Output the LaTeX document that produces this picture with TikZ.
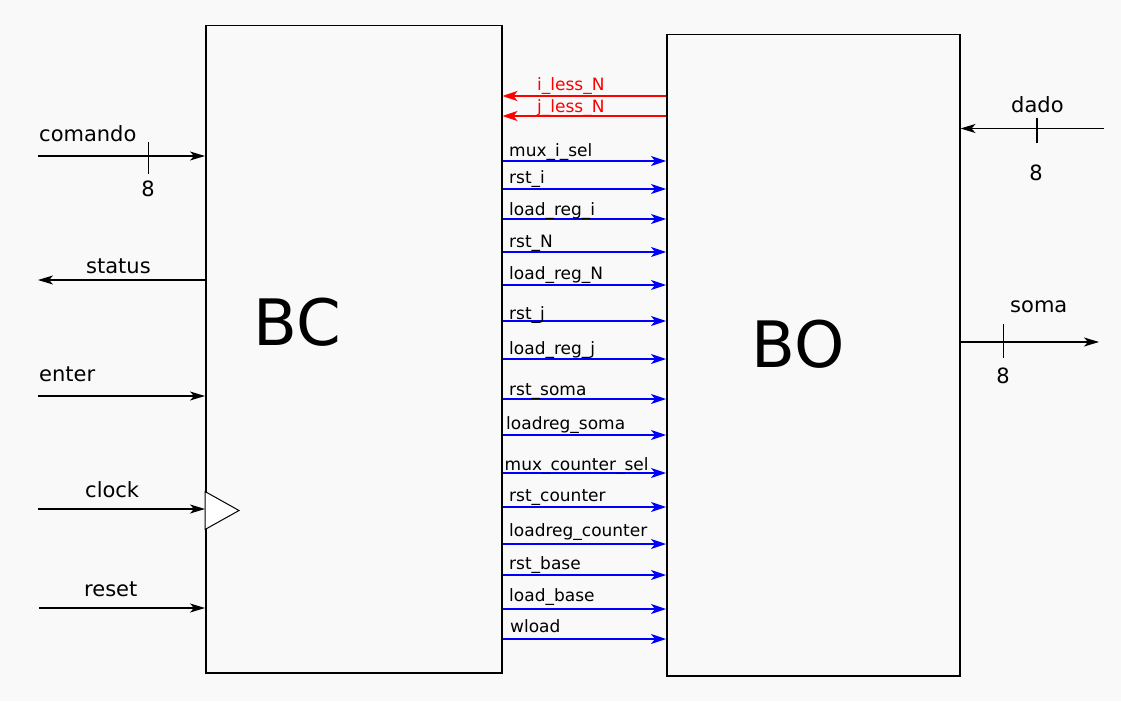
\documentclass[tikz,border=0pt]{standalone}
\usepackage{fontspec}
\setmainfont{DejaVu Sans}
\usetikzlibrary{arrows.meta}
\definecolor{bgc}{HTML}{F9F9F9}
\begin{document}
\begin{tikzpicture}[x=1pt,y=-1pt,
  block/.style={draw, line width=1.5pt, inner sep=0pt, anchor=north west},
  sig/.style={draw=blue, line width=1.1pt, -{Stealth[length=15pt,width=10pt,inset=4pt]}},
  redsig/.style={draw=red, line width=1.1pt, -{Stealth[length=15pt,width=10pt,inset=4pt]}},
  blk/.style={draw=black, line width=1.1pt, -{Stealth[length=15pt,width=9pt,inset=4pt]}},
  tick/.style={draw=black, line width=1.1pt},
  lbl/.style={anchor=base west, inner sep=0pt, font=\fontsize{17}{20}\selectfont},
  redlbl/.style={lbl, text=red},
  io/.style={anchor=base west, inner sep=0pt, font=\fontsize{21}{25}\selectfont},
  num/.style={anchor=base, inner sep=0pt, font=\fontsize{21}{25}\selectfont},
  big/.style={anchor=base, inner sep=0pt, font=\fontsize{64}{70}\selectfont}
]
\fill[bgc] (0,0) rectangle (1121,701);
\useasboundingbox (0,0) rectangle (1121,701);

\node[block, minimum width=296pt, minimum height=647pt] (bc) at (205,25) {};
\node[block, minimum width=293pt, minimum height=641pt] (bo) at (666,34) {};
\node[big] (bctxt) at (297,345) {BC};
\node[big] (botxt) at (798,367) {BO};

% red signals
\coordinate (r1) at (0,96);
\coordinate (r2) at (0,116);
\draw[redsig] (bo.west |- r1) -- (bc.east |- r1);
\draw[redsig] (bo.west |- r2) -- (bc.east |- r2);
\node[redlbl] (rl1) at (537,90) {i\_less\_N};
\node[redlbl] (rl2) at (537,112) {j\_less\_N};

% blue signals
\foreach \lab/\ly/\by/\lx [count=\i] in {
  mux\_i\_sel/161/156/509,
  rst\_i/189/183/509,
  load\_reg\_i/219/215/509,
  rst\_N/252/247/509,
  load\_reg\_N/285/279/509,
  rst\_j/321/319/509,
  load\_reg\_j/359/354/509,
  rst\_soma/399/395/509,
  loadreg\_soma/435/429/506,
  mux\_counter\_sel/473/470/504.5,
  rst\_counter/507/501/509,
  loadreg\_counter/544/536/509,
  rst\_base/575/569/509,
  load\_base/609/601/509,
  wload/639/632/510}{
  \coordinate (s\i) at (0,\ly);
  \draw[sig] (bc.east |- s\i) -- (bo.west |- s\i);
  \node[lbl] (l\i) at (\lx,\by) {\lab};
}

% left side
\coordinate (cin) at (38,156);
\draw[blk] (cin) -- (bc.west |- cin);
\node[io] (cmdl) at (39,141) {comando};
\coordinate (ct1) at (148.5,142);
\coordinate (ct2) at (148.5,174);
\draw[tick] (ct1) -- (ct2);
\node[num] (cn) at (148,196) {8};

\coordinate (stout) at (38,280);
\draw[blk] (bc.west |- stout) -- (stout);
\node[io] (stl) at (86,273) {status};

\coordinate (ein) at (38,396);
\draw[blk] (ein) -- (bc.west |- ein);
\node[io] (el) at (39,381) {enter};

\coordinate (clkin) at (38,509);
\draw[blk] (clkin) -- (bc.west |- clkin);
\node[io] (clkl) at (85,497) {clock};
\coordinate (tr1) at (205,491.5);
\coordinate (tr2) at (239,510.5);
\coordinate (tr3) at (205,529.5);
\draw[fill=white, line width=1pt] (tr1) -- (tr2) -- (tr3) -- cycle;

\coordinate (rin) at (39,608);
\draw[blk] (rin) -- (bc.west |- rin);
\node[io] (rl) at (84,596) {reset};

% right side
\coordinate (din) at (1104,128.5);
\draw[blk] (din) -- (bo.east |- din);
\node[io] (dl) at (1011,112) {dado};
\coordinate (dt1) at (1037,118);
\coordinate (dt2) at (1037,143);
\draw[tick] (dt1) -- (dt2);
\node[num] (dn) at (1036,180) {8};

\coordinate (somaout) at (1099,342);
\draw[blk] (bo.east |- somaout) -- (somaout);
\node[io] (sl) at (1010,312) {soma};
\coordinate (st1) at (1003.3,324);
\coordinate (st2) at (1003.3,358);
\draw[tick] (st1) -- (st2);
\node[num] (sn) at (1003,383) {8};
\end{tikzpicture}
\end{document}
